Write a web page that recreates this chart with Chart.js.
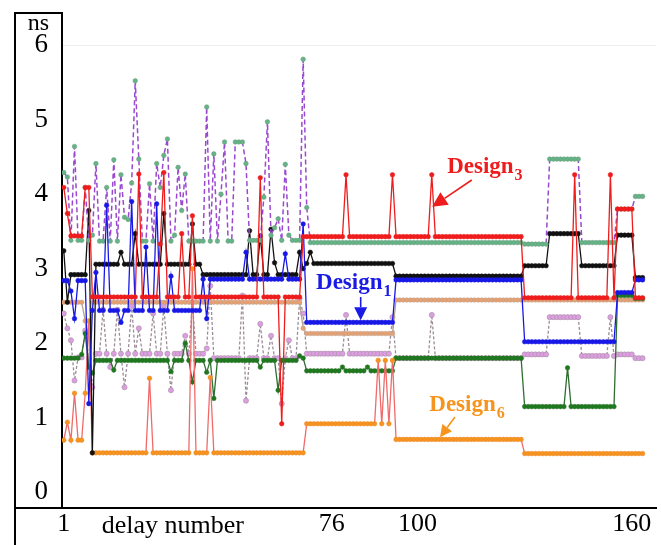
<!DOCTYPE html>
<html>
<head>
<meta charset="utf-8">
<script src="https://cdn.jsdelivr.net/npm/chart.js@4.4.1/dist/chart.umd.min.js"></script>
<style>
  html, body { margin: 0; padding: 0; background: #fff; }
  canvas { display: block; }
</style>
</head>
<body>
<canvas id="delayChart" width="661" height="545"></canvas>
<script>
// delay numbers along the x axis
const delays = Array.from({ length: 163 }, (_, i) => i + 1);
const xTicks = [1, 76, 100, 160];
const yTicks = [0, 1, 2, 3, 4, 5, 6];

// red
const design3 = [
  4.09, 3.74, 3.44, 3.44, 3.44, 3.44, 4.09, 4.09, 2.62, 2.62,
  2.62, 2.62, 2.62, 2.62, 2.62, 2.62, 2.62, 2.62, 2.62, 2.62,
  2.62, 4.27, 2.62, 2.62, 2.62, 2.62, 2.62, 3.33, 4.29, 2.62,
  2.62, 2.62, 2.62, 3.47, 2.62, 2.62, 3.71, 2.62, 2.62, 2.62,
  2.62, 2.62, 2.62, 2.62, 2.62, 2.62, 2.62, 2.62, 2.62, 2.62,
  2.62, 2.62, 2.62, 2.62, 2.62, 4.22, 2.62, 2.62, 2.62, 2.62,
  2.62, 0.92, 2.62, 2.62, 2.62, 2.62, 2.62, 3.43, 3.43, 3.43,
  3.43, 3.43, 3.43, 3.43, 3.43, 3.43, 3.43, 3.43, 3.43, 4.26,
  3.43, 3.43, 3.43, 3.43, 3.43, 3.43, 3.43, 3.43, 3.43, 3.43,
  3.43, 3.43, 4.26, 3.43, 3.43, 3.43, 3.43, 3.43, 3.43, 3.43,
  3.43, 3.43, 3.43, 4.26, 3.43, 3.43, 3.43, 3.43, 3.43, 3.43,
  3.43, 3.43, 3.43, 3.43, 3.43, 3.43, 3.43, 3.43, 3.43, 3.43,
  3.43, 3.43, 3.43, 3.43, 3.43, 3.43, 3.43, 3.43, 3.43, 2.61,
  2.61, 2.61, 2.61, 2.61, 2.61, 2.61, 2.61, 2.61, 2.61, 2.61,
  2.61, 2.61, 2.61, 4.26, 2.61, 2.61, 2.61, 2.61, 2.61, 2.61,
  2.61, 2.61, 2.61, 4.26, 2.61, 3.8, 3.8, 3.8, 3.8, 3.8,
  2.61, 2.61, 2.61
];

// blue
const design1 = [
  2.84, 2.84, 2.7, 2.33, 2.84, 2.84, 2.84, 1.19, 2.44, 2.95,
  2.44, 2.44, 3.85, 2.44, 2.44, 2.44, 2.28, 2.44, 2.44, 3.9,
  2.44, 2.44, 2.44, 3.29, 2.44, 2.44, 3.87, 2.44, 2.44, 2.44,
  2.9, 2.44, 2.44, 2.44, 2.44, 2.44, 2.44, 2.44, 2.44, 2.86,
  2.33, 2.86, 2.86, 2.86, 2.86, 2.86, 2.86, 2.86, 2.86, 2.86,
  2.86, 3.22, 2.86, 2.86, 2.86, 2.86, 2.86, 2.86, 2.86, 2.86,
  2.86, 2.86, 3.2, 2.86, 2.86, 2.86, 2.86, 3.6, 2.28, 2.28,
  2.28, 2.28, 2.28, 2.28, 2.28, 2.28, 2.28, 2.28, 2.28, 2.28,
  2.28, 2.28, 2.28, 2.28, 2.28, 2.28, 2.28, 2.28, 2.28, 2.28,
  2.28, 2.28, 2.28, 2.85, 2.85, 2.85, 2.85, 2.85, 2.85, 2.85,
  2.85, 2.85, 2.85, 2.85, 2.85, 2.85, 2.85, 2.85, 2.85, 2.85,
  2.85, 2.85, 2.85, 2.85, 2.85, 2.85, 2.85, 2.85, 2.85, 2.85,
  2.85, 2.85, 2.85, 2.85, 2.85, 2.85, 2.85, 2.85, 2.85, 2.02,
  2.02, 2.02, 2.02, 2.02, 2.02, 2.02, 2.02, 2.02, 2.02, 2.02,
  2.02, 2.02, 2.02, 2.02, 2.02, 2.02, 2.02, 2.02, 2.02, 2.02,
  2.02, 2.02, 2.02, 2.02, 2.02, 2.68, 2.68, 2.68, 2.68, 2.68,
  2.85, 2.85, 2.85
];

// orange
const design6 = [
  0.7, 0.94, 0.7, 1.33, 0.7, 0.7, 1.33, 2.3, 0.53, 0.53,
  0.53, 0.53, 0.53, 0.53, 0.53, 0.53, 0.53, 0.53, 0.53, 0.53,
  0.53, 0.53, 0.53, 0.53, 1.53, 0.53, 0.53, 0.53, 0.53, 0.53,
  0.53, 0.53, 0.53, 0.53, 0.53, 0.53, 3.0, 0.53, 0.53, 0.53,
  0.53, 1.54, 0.53, 0.53, 0.53, 0.53, 0.53, 0.53, 0.53, 0.53,
  0.53, 0.53, 0.53, 0.53, 0.53, 0.53, 0.53, 0.53, 0.53, 0.53,
  0.53, 0.53, 0.53, 0.53, 0.53, 0.53, 0.53, 0.53, 0.92, 0.92,
  0.92, 0.92, 0.92, 0.92, 0.92, 0.92, 0.92, 0.92, 0.92, 0.92,
  0.92, 0.92, 0.92, 0.92, 0.92, 0.92, 0.92, 0.92, 1.77, 0.92,
  1.77, 0.92, 1.77, 0.71, 0.71, 0.71, 0.71, 0.71, 0.71, 0.71,
  0.71, 0.71, 0.71, 0.71, 0.71, 0.71, 0.71, 0.71, 0.71, 0.71,
  0.71, 0.71, 0.71, 0.71, 0.71, 0.71, 0.71, 0.71, 0.71, 0.71,
  0.71, 0.71, 0.71, 0.71, 0.71, 0.71, 0.71, 0.71, 0.71, 0.52,
  0.52, 0.52, 0.52, 0.52, 0.52, 0.52, 0.52, 0.52, 0.52, 0.52,
  0.52, 0.52, 0.52, 0.52, 0.52, 0.52, 0.52, 0.52, 0.52, 0.52,
  0.52, 0.52, 0.52, 0.52, 0.52, 0.52, 0.52, 0.52, 0.52, 0.52,
  0.52, 0.52, 0.52
];

// black
const blackLine = [
  3.24, 2.55, 2.92, 2.92, 2.92, 2.92, 2.92, 3.78, 0.53, 3.06,
  3.06, 3.06, 3.06, 3.06, 3.06, 3.06, 3.22, 3.06, 3.06, 3.06,
  3.47, 3.06, 3.06, 3.06, 3.06, 3.06, 3.06, 3.06, 3.74, 3.06,
  3.06, 3.06, 3.06, 3.06, 3.06, 3.06, 3.6, 3.06, 3.06, 2.92,
  2.92, 2.92, 2.92, 2.92, 2.92, 2.92, 2.92, 2.92, 2.92, 2.92,
  2.92, 2.92, 3.51, 2.92, 2.92, 3.44, 2.92, 2.92, 3.53, 3.08,
  2.92, 2.92, 2.92, 2.92, 2.92, 2.92, 3.22, 3.0, 3.07, 3.22,
  3.07, 3.07, 3.07, 3.07, 3.07, 3.07, 3.07, 3.07, 3.07, 3.07,
  3.07, 3.07, 3.07, 3.07, 3.07, 3.07, 3.07, 3.07, 3.07, 3.07,
  3.07, 3.07, 3.07, 2.9, 2.9, 2.9, 2.9, 2.9, 2.9, 2.9,
  2.9, 2.9, 2.9, 2.9, 2.9, 2.9, 2.9, 2.9, 2.9, 2.9,
  2.9, 2.9, 2.9, 2.9, 2.9, 2.9, 2.9, 2.9, 2.9, 2.9,
  2.9, 2.9, 2.9, 2.9, 2.9, 2.9, 2.9, 2.9, 2.9, 3.04,
  3.04, 3.04, 3.04, 3.04, 3.04, 3.04, 3.47, 3.47, 3.47, 3.47,
  3.47, 3.47, 3.47, 3.47, 3.47, 3.04, 3.04, 3.04, 3.04, 3.04,
  3.04, 3.04, 3.04, 3.04, 3.04, 3.45, 3.45, 3.45, 3.45, 3.45,
  2.88, 2.88, 2.88
];

// purple dashes, green dots
const purpleLine = [
  4.29, 4.23, 3.38, 4.64, 3.38, 3.38, 4.09, 3.38, 3.45, 4.41,
  3.37, 3.37, 4.09, 3.37, 4.46, 3.37, 4.26, 3.69, 3.66, 4.15,
  5.52, 4.47, 3.37, 3.37, 4.14, 3.37, 4.41, 4.09, 4.52, 4.74,
  3.37, 3.45, 4.36, 3.78, 4.27, 3.37, 3.37, 3.37, 3.37, 3.37,
  5.17, 3.37, 4.54, 3.37, 4.0, 4.7, 3.37, 3.37, 4.7, 4.7,
  4.7, 4.41, 3.38, 3.38, 3.38, 3.38, 3.96, 4.97, 3.45, 3.55,
  3.67, 3.38, 4.4, 3.45, 3.38, 3.38, 3.38, 5.81, 3.82, 3.35,
  3.35, 3.35, 3.35, 3.35, 3.35, 3.35, 3.35, 3.35, 3.35, 3.35,
  3.35, 3.35, 3.35, 3.35, 3.35, 3.35, 3.35, 3.35, 3.35, 3.35,
  3.35, 3.35, 3.35, 3.35, 3.35, 3.35, 3.35, 3.35, 3.35, 3.35,
  3.35, 3.35, 3.35, 3.35, 3.35, 3.35, 3.35, 3.35, 3.35, 3.35,
  3.35, 3.35, 3.35, 3.35, 3.35, 3.35, 3.35, 3.35, 3.35, 3.35,
  3.35, 3.35, 3.35, 3.35, 3.35, 3.35, 3.35, 3.35, 3.35, 3.33,
  3.33, 3.33, 3.33, 3.33, 3.33, 3.33, 4.47, 4.47, 4.47, 4.47,
  4.47, 4.47, 4.47, 4.47, 4.47, 3.35, 3.35, 3.35, 3.35, 3.35,
  3.35, 3.35, 3.35, 3.35, 3.35, 3.8, 3.8, 3.8, 3.8, 3.8,
  3.97, 3.97, 3.97
];

// dark green
const greenLine = [
  1.8, 1.8, 1.8, 1.8, 1.8, 1.85, 2.13, 1.68, 1.6, 1.77,
  1.77, 1.77, 1.77, 1.77, 1.64, 1.77, 1.77, 1.77, 1.77, 1.77,
  1.77, 1.77, 1.77, 1.77, 1.77, 1.77, 1.77, 1.77, 1.77, 1.77,
  1.62, 1.77, 1.77, 1.77, 2.0, 1.77, 1.48, 1.77, 1.77, 1.77,
  1.61, 1.77, 1.26, 1.77, 1.77, 1.77, 1.77, 1.77, 1.77, 1.77,
  1.77, 1.77, 1.77, 1.77, 1.77, 1.68, 1.77, 1.77, 1.77, 1.77,
  1.37, 1.77, 1.77, 1.77, 1.77, 1.77, 1.83, 1.8, 1.63, 1.63,
  1.63, 1.63, 1.63, 1.63, 1.63, 1.63, 1.63, 1.63, 1.68, 1.63,
  1.63, 1.63, 1.63, 1.63, 1.63, 1.68, 1.63, 1.63, 1.63, 1.63,
  1.63, 1.63, 1.63, 1.8, 1.8, 1.8, 1.8, 1.8, 1.8, 1.8,
  1.8, 1.8, 1.8, 1.8, 1.8, 1.8, 1.8, 1.8, 1.8, 1.8,
  1.8, 1.8, 1.8, 1.8, 1.8, 1.8, 1.8, 1.8, 1.8, 1.8,
  1.8, 1.8, 1.8, 1.8, 1.8, 1.8, 1.8, 1.8, 1.8, 1.15,
  1.15, 1.15, 1.15, 1.15, 1.15, 1.15, 1.15, 1.15, 1.15, 1.15,
  1.15, 1.67, 1.15, 1.15, 1.15, 1.15, 1.15, 1.15, 1.15, 1.15,
  1.15, 1.15, 1.15, 1.15, 1.15, 2.64, 2.64, 2.64, 2.64, 2.64,
  2.6, 2.6, 2.6
];

// tan
const tanLine = [
  2.55, 2.55, 2.55, 2.55, 2.55, 2.55, 2.3, 1.7, 2.55, 2.55,
  2.55, 2.55, 2.55, 2.55, 2.55, 2.55, 2.55, 2.55, 2.55, 2.55,
  2.55, 2.55, 2.55, 2.55, 2.55, 2.55, 2.55, 2.55, 2.55, 2.55,
  2.55, 2.55, 2.55, 2.55, 2.55, 2.55, 2.55, 2.55, 2.55, 2.55,
  2.55, 2.55, 2.55, 2.55, 2.55, 2.55, 2.55, 2.55, 2.55, 2.55,
  2.55, 2.55, 2.55, 2.55, 2.55, 2.55, 2.55, 2.55, 2.55, 2.55,
  2.55, 2.55, 2.55, 2.55, 2.55, 2.55, 2.55, 2.2, 2.13, 2.13,
  2.13, 2.13, 2.13, 2.13, 2.13, 2.13, 2.13, 2.13, 2.13, 2.13,
  2.13, 2.13, 2.13, 2.13, 2.13, 2.13, 2.13, 2.13, 2.13, 2.13,
  2.13, 2.13, 2.13, 2.58, 2.58, 2.58, 2.58, 2.58, 2.58, 2.58,
  2.58, 2.58, 2.58, 2.58, 2.58, 2.58, 2.58, 2.58, 2.58, 2.58,
  2.58, 2.58, 2.58, 2.58, 2.58, 2.58, 2.58, 2.58, 2.58, 2.58,
  2.58, 2.58, 2.58, 2.58, 2.58, 2.58, 2.58, 2.58, 2.58, 2.58,
  2.58, 2.58, 2.58, 2.58, 2.58, 2.58, 2.58, 2.58, 2.58, 2.58,
  2.58, 2.58, 2.58, 2.58, 2.58, 2.58, 2.58, 2.58, 2.58, 2.58,
  2.58, 2.58, 2.58, 2.58, 2.58, 2.58, 2.58, 2.58, 2.58, 2.58,
  2.58, 2.58, 2.58
];

// pink dots
const pinkLine = [
  2.4, 2.2, 2.04, 1.5, 1.81, 1.81, 2.17, 1.8, 1.41, 1.86,
  1.86, 2.45, 1.86, 1.68, 1.86, 2.45, 1.86, 1.41, 1.86, 2.5,
  1.86, 2.2, 1.86, 1.86, 1.86, 2.4, 1.86, 1.86, 2.5, 1.86,
  1.37, 1.86, 1.86, 1.86, 2.1, 1.86, 2.55, 1.86, 1.86, 1.86,
  1.93, 2.77, 1.8, 1.8, 1.8, 1.8, 1.8, 1.8, 1.8, 1.8,
  2.64, 1.23, 1.8, 1.8, 1.8, 2.26, 1.8, 1.8, 2.1, 1.8,
  1.8, 1.19, 1.8, 2.04, 1.8, 1.8, 2.6, 2.4, 1.86, 1.86,
  1.86, 1.86, 1.86, 1.86, 1.86, 1.86, 1.86, 1.86, 1.86, 2.38,
  1.86, 1.86, 1.86, 1.86, 1.86, 1.86, 1.86, 1.86, 1.86, 1.86,
  1.86, 1.86, 2.35, 1.8, 1.8, 1.8, 1.8, 1.8, 1.8, 1.8,
  1.8, 1.8, 1.8, 2.38, 1.8, 1.8, 1.8, 1.8, 1.8, 1.8,
  1.8, 1.8, 1.8, 1.8, 1.8, 1.8, 1.8, 1.8, 1.8, 1.8,
  1.8, 1.8, 1.8, 1.8, 1.8, 1.8, 1.8, 1.8, 1.8, 1.85,
  1.85, 1.85, 1.85, 1.85, 1.85, 1.85, 2.35, 2.35, 2.35, 2.35,
  2.35, 2.35, 2.35, 2.35, 2.35, 1.83, 1.83, 1.83, 1.83, 1.83,
  1.83, 1.83, 1.83, 2.35, 1.83, 1.85, 1.85, 1.85, 1.85, 1.85,
  1.8, 1.8, 1.8
];

// labels with arrows, placed in data units
const notes = [
  { sub: "3", color: "#ee1c1c", at: [108.3, 4.28], from: [115.2, 4.19], to: [104.1, 3.83], head: 15 },
  { sub: "1", color: "#1a1ae6", at: [71.6, 2.73], from: [84.1, 2.62], to: [84.1, 2.31], head: 13 },
  { sub: "6", color: "#f7941d", at: [103.3, 1.09], from: [110.5, 1.01], to: [106.3, 0.74], head: 12 },
];

const serif = "'Liberation Serif', 'Times New Roman', serif";

function series(label, values, line, dot, extra) {
  return Object.assign({
    label,
    data: values.map((v, k) => ({ x: delays[k], y: v })),
    borderColor: line,
    backgroundColor: dot,
    pointBackgroundColor: dot,
    pointBorderColor: line,
    borderWidth: 1.3,
    pointRadius: 2.3,
    pointBorderWidth: 0.5,
    tension: 0,
  }, extra || {});
}

function drawArrow(ctx, x1, y1, x2, y2, head) {
  const a = Math.atan2(y2 - y1, x2 - x1);
  const bx = x2 - head * Math.cos(a);
  const by = y2 - head * Math.sin(a);
  const w = head * 0.5;
  ctx.beginPath();
  ctx.moveTo(x1, y1);
  ctx.lineTo(bx, by);
  ctx.stroke();
  ctx.beginPath();
  ctx.moveTo(x2, y2);
  ctx.lineTo(bx + w * Math.sin(a), by - w * Math.cos(a));
  ctx.lineTo(bx - w * Math.sin(a), by + w * Math.cos(a));
  ctx.closePath();
  ctx.fill();
}

// box around the y labels, "ns", "delay number" and the Design labels
const framePlugin = {
  id: "frame",
  afterDraw(chart) {
    const { ctx, chartArea, scales } = chart;
    const xs = scales.x, ys = scales.y;
    ctx.save();
    ctx.strokeStyle = "#000";
    ctx.lineWidth = 2;
    ctx.beginPath();
    ctx.moveTo(15, chart.height);
    ctx.lineTo(15, chartArea.top);
    ctx.lineTo(chartArea.left, chartArea.top);
    ctx.moveTo(14, chartArea.bottom);
    ctx.lineTo(chartArea.left, chartArea.bottom);
    ctx.stroke();

    ctx.fillStyle = "#000";
    ctx.textAlign = "center";
    ctx.textBaseline = "alphabetic";
    ctx.font = "24px " + serif;
    ctx.fillText("ns", 38.5, 30);
    ctx.font = "26px " + serif;
    ctx.fillText("delay number", xs.getPixelForValue(31.5), chartArea.bottom + 25);

    ctx.textAlign = "left";
    notes.forEach(n => {
      const tx = xs.getPixelForValue(n.at[0]);
      const ty = ys.getPixelForValue(n.at[1]);
      ctx.fillStyle = n.color;
      ctx.strokeStyle = n.color;
      ctx.font = "bold 23px " + serif;
      ctx.fillText("Design", tx, ty);
      const w = ctx.measureText("Design").width;
      ctx.font = "bold 16px " + serif;
      ctx.fillText(n.sub, tx + w + 1, ty + 7);
      ctx.lineWidth = 1.6;
      drawArrow(ctx,
        xs.getPixelForValue(n.from[0]), ys.getPixelForValue(n.from[1]),
        xs.getPixelForValue(n.to[0]), ys.getPixelForValue(n.to[1]), n.head);
    });
    ctx.restore();
  }
};

new Chart(document.getElementById("delayChart"), {
  type: "line",
  data: {
    datasets: [
      series("Design3", design3, "#ee1c1c", "#ee1c1c"),
      series("Design1", design1, "#1818e6", "#1818e6"),
      series("purple", purpleLine, "#9a48d0", "#63b487", { borderDash: [5, 3], borderWidth: 1.5, pointBorderColor: "#6f9a7c" }),
      series("black", blackLine, "#111111", "#111111"),
      series("Design6", design6, "#f06a6a", "#f7941d", { pointBorderColor: "#e8862a" }),
      series("green", greenLine, "#2e6e2e", "#1c7a1c"),
      series("tan", tanLine, "#b8a090", "#e8a070"),
      series("pink", pinkLine, "#9c8c98", "#dc9ee0", { borderDash: [3, 2], pointRadius: 2.6 }),
    ],
  },
  options: {
    responsive: false,
    animation: false,
    layout: { padding: { left: 14, top: 13, right: 0, bottom: 0 } },
    plugins: {
      legend: { display: false },
      tooltip: { enabled: false },
    },
    scales: {
      x: {
        type: "linear",
        min: 0.5,
        max: 166.9,
        afterBuildTicks: s => { s.ticks = xTicks.map(v => ({ value: v })); },
        afterFit: s => { s.height = 37; },
        ticks: { color: "#000", font: { family: serif, size: 26 }, padding: 1, maxRotation: 0, autoSkip: false },
        grid: { display: false, drawTicks: false },
        border: { color: "#000", width: 2 },
      },
      y: {
        min: -0.21,
        max: 6.43,
        afterBuildTicks: s => { s.ticks = yTicks.map(v => ({ value: v })); },
        // fixed box width; no extra room reserved above/below the end labels
        afterFit: s => { s.width = 48; s.paddingTop = 0; s.paddingBottom = 0; },
        ticks: { color: "#000", font: { family: serif, size: 27 }, padding: 14 },
        grid: {
          drawTicks: false,
          color: ctx => (ctx.tick && ctx.tick.value === 6 ? "#eeeeee" : "rgba(0,0,0,0)"),
        },
        border: { color: "#000", width: 2 },
      },
    },
  },
  plugins: [framePlugin],
});
</script>
</body>
</html>
